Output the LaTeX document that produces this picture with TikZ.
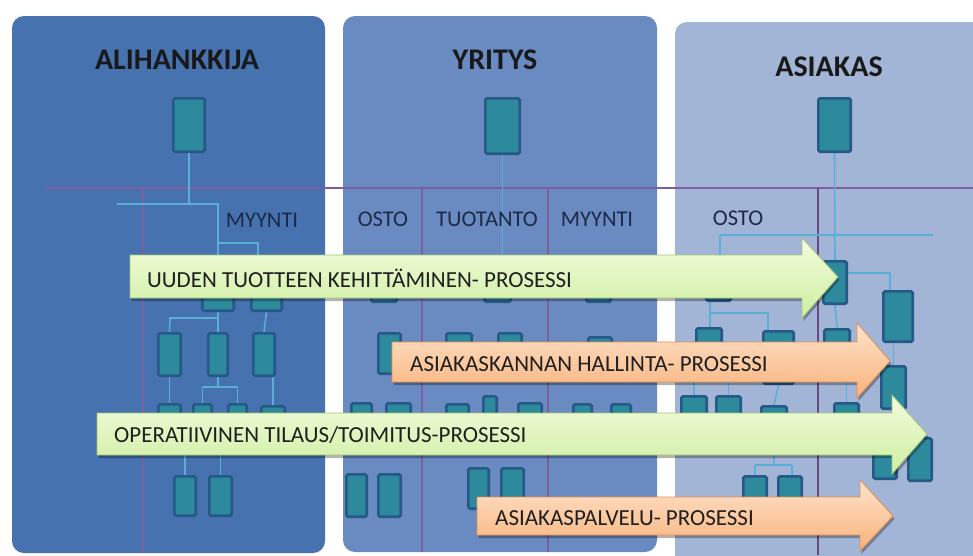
\documentclass[tikz,border=0pt]{standalone}
\usepackage{fontspec}
\setmainfont{Carlito}
\usetikzlibrary{calc}

\definecolor{pone}{HTML}{4672AF}
\definecolor{ptwo}{HTML}{6A8BC2}
\definecolor{pthree}{HTML}{A3B5D6}
\definecolor{boxfill}{HTML}{2C8A9C}
\definecolor{boxedge}{HTML}{265888}
\definecolor{linkcol}{HTML}{5AAFD6}
\definecolor{divcol}{HTML}{7E5E9E}
\definecolor{deptcol}{HTML}{1C2A48}
\definecolor{greentop}{HTML}{F4FCDC}
\definecolor{greenbot}{HTML}{CDEEA2}
\definecolor{greenedge}{HTML}{A3C474}
\definecolor{orangetop}{HTML}{FEE3CC}
\definecolor{orangebot}{HTML}{F8B27A}
\definecolor{orangeedge}{HTML}{E0904F}

% org-chart box given by its corners: name, left, top, right, bottom
\newcommand{\orgb}[5]{%
  \node[orgbox, minimum width={(#4-#2-2.6)*1pt}, minimum height={(#5-#3-2.6)*1pt}]
    (#1) at ({(#2+#4)/2},{(#3+#5)/2}) {};}

\pgfdeclarelayer{back}
\pgfdeclarelayer{links}
\pgfsetlayers{back,links,main}

\begin{document}
\begin{tikzpicture}[x=1pt,y=-1pt,
  orgbox/.style={draw=boxedge, fill=boxfill, line width=2.6pt, rounded corners=1.5pt, inner sep=0pt},
  link/.style={draw=linkcol, line width=1.6pt},
  divider/.style={draw=divcol, line width=1.3pt},
  paneltitle/.style={font=\bfseries\fontsize{30}{32}\selectfont, text=black!90, inner sep=0pt},
  dept/.style={font=\fontsize{22.5}{24}\selectfont, text=deptcol, inner sep=0pt},
  greenarrow/.style={top color=greentop, bottom color=greenbot, draw=greenedge, line width=0.8pt},
  orangearrow/.style={top color=orangetop, bottom color=orangebot, draw=orangeedge, line width=0.8pt},
  arrowshadow/.style={fill=black, opacity=0.3, xshift=1.5pt, yshift=-3pt},
  arrowtext/.style={font=\fontsize{23}{25}\selectfont, text=black!88, anchor=west, inner sep=0pt}
]
\useasboundingbox (0,0) rectangle (973,555);
\clip (0,0) rectangle (973,555);

\begin{pgfonlayer}{back}
  \fill[white] (0,0) rectangle (973,555);
  % ---- three swim-lane panels
  \fill[pone, rounded corners=12pt] (12,16) rectangle (325,553);
  \fill[ptwo, rounded corners=12pt] (343,16) rectangle (657,552);
  \fill[pthree, rounded corners=12pt] (675,22) rectangle (1000,590);
  % ---- department dividers
  \draw[divider] (45,188) -- (973,188);
  \draw[divider] (143,188) -- (143,552);
  \draw[divider] (422,188) -- (422,552);
  \draw[divider] (548,188) -- (548,552);
  \draw[divider, draw=divcol!80!black] (818,188) -- (818,555);
\end{pgfonlayer}

% ---- panel titles and department labels
\node[paneltitle] (ttl-ali) at (177,60) {ALIHANKKIJA};
\node[paneltitle] (ttl-yri) at (495,60) {YRITYS};
\node[paneltitle] (ttl-asi) at (829,67) {ASIAKAS};
\node[dept] (d-ali-myy) at (262,220) {MYYNTI};
\node[dept] (d-yri-osto) at (383,219) {OSTO};
\node[dept] (d-yri-tuo) at (487,219) {TUOTANTO};
\node[dept] (d-yri-myy) at (597,219) {MYYNTI};
\node[dept] (d-asi-osto) at (738,218) {OSTO};

% ---- org chart: ALIHANKKIJA
\orgb{a0}{172}{97}{206}{153}
\orgb{b1}{201}{262}{235}{312}
\orgb{b2}{250}{262}{283}{312}
\orgb{c1}{157}{332}{182}{377}
\orgb{c2}{207}{332}{229}{377}
\orgb{c3}{252}{332}{276}{377}
\orgb{d1}{157}{403}{182}{450}
\orgb{d2}{192}{403}{213}{450}
\orgb{d3}{227}{403}{248}{450}
\orgb{d4}{260}{405}{286}{450}
\orgb{e1}{173}{475}{197}{517}
\orgb{e2}{208}{475}{233}{517}

\coordinate (a-bus-l) at (117,204);
\coordinate (a-br-l) at (218,243);
\coordinate (a-br-r) at (258,243);
\coordinate (c-bus) at (170,318);
\coordinate (d-bus) at (218,387);

% ---- org chart: YRITYS
\orgb{p0}{484}{97}{521}{155}
\orgb{q1}{370}{262}{398}{303}
\orgb{q2}{483}{262}{512}{303}
\orgb{q3}{585}{262}{612}{303}
\orgb{r1}{377}{332}{402}{375}
\orgb{r2}{445}{332}{473}{372}
\orgb{r3}{497}{332}{523}{372}
\orgb{r4}{587}{336}{613}{376}
\orgb{s1}{350}{402}{373}{448}
\orgb{s2}{385}{402}{412}{448}
\orgb{s3}{445}{403}{470}{448}
\orgb{s4}{482}{395}{498}{448}
\orgb{s5}{517}{402}{543}{448}
\orgb{s6}{572}{403}{593}{448}
\orgb{s7}{610}{403}{632}{448}
\orgb{t1}{345}{473}{368}{518}
\orgb{t2}{377}{473}{402}{518}
\orgb{t3}{467}{467}{490}{510}
\orgb{t4}{500}{467}{525}{510}

% ---- org chart: ASIAKAS
\orgb{k0}{817}{97}{852}{153}
\orgb{k1}{822}{260}{848}{305}
\orgb{k2}{882}{290}{914}{343}
\orgb{k3}{880}{365}{907}{410}
\orgb{k4}{872}{438}{898}{480}
\orgb{k5}{907}{437}{933}{482}
\orgb{k6}{823}{328}{851}{372}
\orgb{k7}{833}{402}{860}{440}
\orgb{l1}{705}{268}{732}{302}
\orgb{l2}{695}{327}{723}{370}
\orgb{l3}{762}{330}{795}{385}
\orgb{l4}{680}{395}{708}{440}
\orgb{l5}{715}{395}{742}{440}
\orgb{l6}{760}{405}{788}{445}
\orgb{l7}{742}{475}{768}{515}
\orgb{l8}{777}{475}{803}{515}

\coordinate (k-bus-l) at (720,235);
\coordinate (k-bus-r) at (933,235);
\coordinate (k-br) at (890,273);
\coordinate (l-bus) at (710,313);
\coordinate (l-bus-r) at (768,313);
\coordinate (l7-bus) at (755,465);
\coordinate (l8-bus) at (792,465);

% ---- connectors (on a layer under the boxes)
\begin{pgfonlayer}{links}
  % ALIHANKKIJA
  \draw[link] (a0.south) -- (a0.south |- a-bus-l);
  \draw[link] (a-bus-l) -| (b1.north);
  \draw[link] (a-br-l) -- (a-br-r) -- (a-br-r |- b2.north);
  \draw[link] (b1.south) -- (c2.north);
  \draw[link] (b1.south |- c-bus) -- (c-bus) -- (c1.north);
  \draw[link] (b2.south) -- (c3.north);
  \draw[link] (c1.south) -- (d1.north);
  \draw[link] (c3.south -| d4.north) -- (d4.north);
  \draw[link] (c2.south) -- (d-bus);
  \draw[link] (d2.north |- d-bus) -- (d3.north |- d-bus);
  \draw[link] (d2.north |- d-bus) -- (d2.north);
  \draw[link] (d3.north |- d-bus) -- (d3.north);
  \draw[link] (e1.north) -- ++(0,-30);
  \draw[link] (e2.north) -- ++(0,-30);
  % YRITYS
  \draw[link] (p0.south) -- (p0.south |- q2.north);
  % ASIAKAS
  \draw[link] (k0.south) -- (k1.north);
  \draw[link] (k-bus-l) -- (k-bus-r);
  \draw[link] (k-bus-l) -- (k-bus-l |- l1.north);
  \draw[link] (k1.east |- k-br) -- (k-br) -- (k-br |- k2.north);
  \draw[link] (k2.south -| k3.north) -- (k3.north);
  \draw[link] (k3.south) -- (k4.north -| k3.south);
  \draw[link] (k1.south) -- (k6.north);
  \draw[link] (k7.north) -- ++(0,-30);
  \draw[link] (l1.south -| l-bus) -- (l-bus) -- (l-bus-r) -- (l3.north -| l-bus-r);
  \draw[link] (l-bus) -- (l2.north -| l-bus);
  \draw[link] (l4.north) -- ++(0,-20);
  \draw[link] (l5.north) -- ++(0,-20);
  \draw[link] (l3.south) -- (l6.north);
  \draw[link] (l7-bus) -- (l8-bus);
  \draw[link] (l6.south |- l7-bus) -- ++(0,-12);
  \draw[link] (l7-bus) -- (l7.north);
  \draw[link] (l8-bus) -- (l8.north -| l8-bus);
\end{pgfonlayer}

% ---- process arrows
\path[arrowshadow] (130,255) -- (802,255) -- (802,238) -- (838,277) -- (802,318) -- (802,298) -- (130,298) -- cycle;
\path[greenarrow] (130,255) -- (802,255) -- (802,238) -- (838,277) -- (802,318) -- (802,298) -- (130,298) -- cycle;
\node[arrowtext] (pr-uusi) at (147,278) {UUDEN TUOTTEEN KEHITTÄMINEN- PROSESSI};

\path[arrowshadow] (392,342) -- (857,342) -- (857,323) -- (890,361) -- (857,398) -- (857,382) -- (392,382) -- cycle;
\path[orangearrow] (392,342) -- (857,342) -- (857,323) -- (890,361) -- (857,398) -- (857,382) -- (392,382) -- cycle;
\node[arrowtext] (pr-hallinta) at (410,364) {ASIAKASKANNAN HALLINTA- PROSESSI};

\path[arrowshadow] (97,413) -- (892,413) -- (892,395) -- (927,434) -- (892,474) -- (892,455) -- (97,455) -- cycle;
\path[greenarrow] (97,413) -- (892,413) -- (892,395) -- (927,434) -- (892,474) -- (892,455) -- (97,455) -- cycle;
\node[arrowtext] (pr-tilaus) at (114,435) {OPERATIIVINEN TILAUS/TOIMITUS-PROSESSI};

\path[arrowshadow] (477,497) -- (860,497) -- (860,480) -- (893,516) -- (860,551) -- (860,535) -- (477,535) -- cycle;
\path[orangearrow] (477,497) -- (860,497) -- (860,480) -- (893,516) -- (860,551) -- (860,535) -- (477,535) -- cycle;
\node[arrowtext] (pr-palvelu) at (495,518) {ASIAKASPALVELU- PROSESSI};
\end{tikzpicture}
\end{document}
